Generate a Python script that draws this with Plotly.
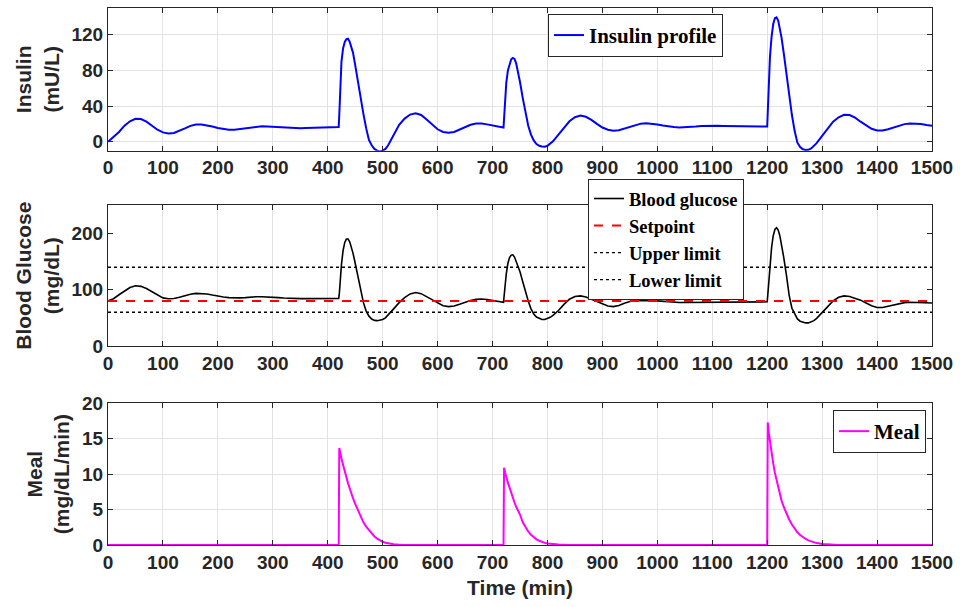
import plotly.graph_objects as go
from plotly.subplots import make_subplots

# ---------------- data ----------------
time_min = [0,10,20,30,40,50,60,70,80,90,100,110,120,130,140,150,160,170,180,190,200,
            210,220,230,240,250,260,270,280,290,300,310,320,330,340,350,360,370,380,390,400,410,420,
            421,423,425,428,431,434,437,440,443,446,450,455,460,465,470,475,480,485,490,495,500,505,510,
            520,530,540,550,560,570,580,590,600,610,620,630,640,650,660,670,680,690,700,710,720,
            721,723,725,728,731,734,737,740,743,746,750,755,760,765,770,775,780,785,790,795,800,805,810,
            820,830,840,850,860,870,880,890,900,910,920,930,940,950,960,970,980,990,1000,
            1010,1020,1030,1040,1050,1060,1070,1080,1090,1100,1110,1120,1130,1140,1150,1160,1170,1180,1190,1200,
            1201,1203,1205,1208,1211,1214,1217,1220,1223,1226,1230,1235,1240,1245,1250,1255,1260,1265,1270,1275,
            1280,1285,1290,1300,1310,1320,1330,1340,1350,1360,1370,1380,1390,1400,1410,1420,1430,1440,1450,1460,
            1470,1480,1490,1500]

insulin = [0,5,11,18,23,25.8,25.5,22.5,18,13.5,10.5,9.4,9.8,12,15,17.8,19.3,19.4,18.5,17,15.5,
           14.2,13.5,13.6,14.3,15.3,16.3,17,17.3,17.2,16.8,16.2,15.6,15.2,15.1,15.2,15.5,15.8,16.1,16.3,16.4,16.4,16.5,
           30,70,90,105,112,115,115.5,112,106,100,86,66,48,31,15,2,-4,-8,-10,-11,-10,-8,-4,
           8,19,26,30.5,32,30,25,19,14,11,10,11,13.5,16.5,19,20.5,20.5,19.5,18,17,16,
           25,50,66,80,88,92.5,94,93,88,80,67,49,32,18,8,1.5,-2.5,-4.5,-5.3,-5.5,-4.5,-2.5,0.5,
           8,16,23,27.5,29.3,28,24.5,20,16,13.5,12.4,13,14.8,17,19,20.3,20.7,20.2,19.3,
           18.2,17.2,16.5,16.1,16.2,16.6,17.1,17.6,17.9,18,17.9,17.7,17.5,17.3,17.2,17.1,17,17,17,17,
           35,70,95,118,132,138.5,139.5,136,128,117,100,76,52,30,12,-1,-6,-8.5,-9.3,-9,
           -7.5,-5,-1.5,6.5,15,22.5,27.5,30.3,30,27,22.5,18,14.5,12.6,12.6,14,16,18.2,19.8,20.6,
           20.5,19.8,18.8,18]

glucose = [80,84,91,98,104,107,106,102,96,90,85.5,84,84.5,86.5,89.5,92,93.5,93.5,92.5,90.5,88.5,
           87,86,85.5,85.5,86,87,87.5,87.5,87.3,86.8,86,85.2,84.6,84.3,84.2,84.2,84.3,84.4,84.5,84.5,84.5,84.5,
           92,120,145,170,184,190,190,185,176,165,147,122,97,77,62,53,48,45.5,45,45.5,47,50,55,
           66,77,86,92.5,95,93,87.5,81,75.5,71.5,70,71,74,78,81,83,83.5,82.5,81,79,77.5,
           88,110,128,147,157,161.5,162,158,151,143,132,114,96,80,66,57,51.5,48.5,47,47,48.5,51,54.5,
           63,74,83,88,89,87,83,78,74,71,70,72,76,79,80.5,81,81,80.8,80.2,
           79.3,78.5,77.8,77.4,77.3,77.4,77.7,78,78.3,78.5,78.6,78.6,78.6,78.6,78.5,78.5,78.5,78.5,78.5,78.5,
           90,118,145,175,196,207,210,206,196,182,158,126,90,67,56,48,44,42,41,41,
           42.5,45,49,59,70,80,86.5,89,88,85,81.5,76.5,71.5,68.5,68.5,70.5,73,75.5,77,77.8,
           77.8,77.3,76.8,76.5]

meal_time = [0,420,
             421,423,425,428,431,434,437,440,443,446,450,455,460,465,470,475,480,485,490,495,500,505,510,520,530,540,
             720,
             721,723,725,728,731,734,737,740,743,746,750,755,760,765,770,775,780,785,790,795,800,805,810,820,830,840,
             1200,
             1201,1203,1205,1208,1211,1214,1217,1220,1223,1226,1230,1235,1240,1245,1250,1255,1260,1265,1270,1275,
             1280,1285,1290,1300,1310,1320,1330,1340,
             1500]
meal = [0,0,
        13.7,12.8,12.2,11.3,10.3,9.5,8.7,8.0,7.2,6.6,5.8,4.9,4.0,3.2,2.6,2.1,1.6,1.2,0.9,0.65,0.45,0.32,0.22,0.1,0.05,0,
        0,
        10.9,10.2,9.5,8.8,8.1,7.3,6.6,6.0,5.4,4.9,4.3,3.2,2.5,1.9,1.45,1.1,0.8,0.6,0.42,0.3,0.22,0.16,0.12,0.06,0.03,0,
        0,
        17.3,15.8,14.6,12.9,11.5,10.2,9.1,8.0,7.1,6.3,5.4,4.4,3.6,2.9,2.3,1.8,1.4,1.1,0.85,0.65,
        0.5,0.37,0.27,0.14,0.07,0.03,0.01,0,
        0]

setpoint = 80
upper_limit = 140
lower_limit = 60
x_range = [0, 1500]

x_ticks = list(range(0, 1501, 100))
insulin_ticks = [0, 40, 80, 120]
glucose_ticks = [0, 100, 200]
meal_ticks = [0, 5, 10, 15, 20]

assert len(time_min) == len(insulin) == len(glucose)
assert len(meal_time) == len(meal)

# ---------------- figure ----------------
fig = make_subplots(rows=3, cols=1)

fig.add_trace(go.Scatter(x=time_min, y=insulin, mode="lines", name="Insulin profile",
                         line=dict(color="#0000ff", width=2), legend="legend"), row=1, col=1)

fig.add_trace(go.Scatter(x=time_min, y=glucose, mode="lines", name="Blood glucose",
                         line=dict(color="black", width=1.6), legend="legend2"), row=2, col=1)
fig.add_trace(go.Scatter(x=x_range, y=[setpoint, setpoint], mode="lines", name="Setpoint",
                         line=dict(color="#ff0000", width=2, dash="dash"), legend="legend2"), row=2, col=1)
fig.add_trace(go.Scatter(x=x_range, y=[upper_limit, upper_limit], mode="lines", name="Upper limit",
                         line=dict(color="black", width=1.4, dash="dot"), legend="legend2"), row=2, col=1)
fig.add_trace(go.Scatter(x=x_range, y=[lower_limit, lower_limit], mode="lines", name="Lower limit",
                         line=dict(color="black", width=1.4, dash="dot"), legend="legend2"), row=2, col=1)

fig.add_trace(go.Scatter(x=meal_time, y=meal, mode="lines", name="Meal",
                         line=dict(color="#ff00ff", width=2), legend="legend3"), row=3, col=1)

axis_col = "#262626"
grid_col = "#e3e3e3"
tick_font = dict(family="Liberation Sans, Arial", size=19, color=axis_col, weight="bold")
title_font = dict(family="Liberation Sans, Arial", size=21, color=axis_col, weight="bold")
common_axis = dict(showline=True, linecolor=axis_col, linewidth=1, mirror="ticks",
                   ticks="inside", ticklen=5, tickcolor=axis_col, tickfont=tick_font,
                   zeroline=False, gridcolor=grid_col, gridwidth=1)

domains = [[0.7343, 1.0], [0.3706, 0.6326], [0.0, 0.2639]]
for i in range(3):
    fig.update_xaxes(range=x_range, tickvals=x_ticks, showgrid=True, domain=[0, 1],
                     **common_axis, row=i + 1, col=1)

fig.update_yaxes(range=[-10, 150], tickvals=insulin_ticks, showgrid=True, domain=domains[0],
                 title=dict(text="Insulin<br>(mU/L)", font=title_font, standoff=6),
                 **common_axis, row=1, col=1)
fig.update_yaxes(range=[0, 250], tickvals=glucose_ticks, showgrid=False, domain=domains[1],
                 title=dict(text="Blood Glucose<br>(mg/dL)", font=title_font, standoff=6),
                 **common_axis, row=2, col=1)
fig.update_yaxes(range=[0, 20], tickvals=meal_ticks, showgrid=True, domain=domains[2],
                 title=dict(text="Meal<br>(mg/dL/min)", font=title_font, standoff=6),
                 **common_axis, row=3, col=1)
fig.update_xaxes(title=dict(text="Time (min)", font=title_font, standoff=8), row=3, col=1)

legend_font = dict(family="Liberation Serif, Times New Roman", size=21, color="black", weight="bold")
legend2_font = dict(legend_font, size=18.5)
legend_common = dict(xref="paper", yref="paper", yanchor="top",
                     bgcolor="white", bordercolor=axis_col, borderwidth=1,
                     tracegroupgap=0, itemwidth=30)

fig.update_layout(
    width=960, height=607,
    margin=dict(l=108, r=28, t=8, b=62, autoexpand=False),
    paper_bgcolor="white", plot_bgcolor="white",
    showlegend=True,
    legend=dict(x=0.534, y=0.989, xanchor="left", font=legend_font, **legend_common),
    legend2=dict(x=0.5825, y=0.6816, xanchor="left", font=legend2_font, **legend_common),
    legend3=dict(x=0.9927, y=0.2514, xanchor="right", font=legend_font, **legend_common),
)

fig.write_html("out.html")
